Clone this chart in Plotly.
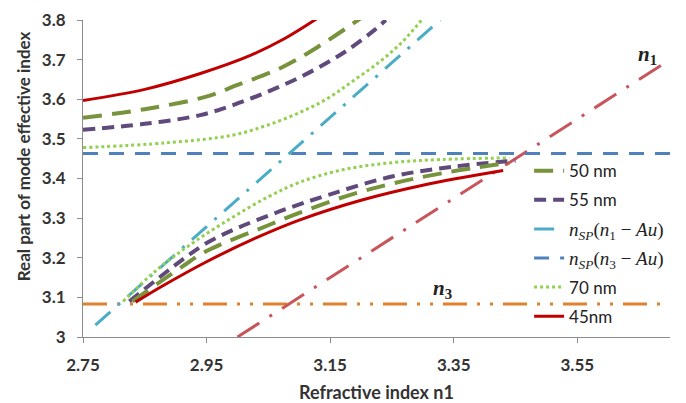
import plotly.graph_objects as go

# ---------------- data ----------------
x45_up = [2.75, 2.85, 2.94, 3.02, 3.075, 3.13]
y45_up = [3.597, 3.625, 3.665, 3.710, 3.752, 3.805]
x45_lo = [2.835, 2.88, 2.95, 3.03, 3.10, 3.20, 3.30, 3.43]
y45_lo = [3.088, 3.130, 3.190, 3.250, 3.295, 3.345, 3.383, 3.420]

x50_up = [2.75, 2.85, 2.948, 3.00, 3.07, 3.13, 3.20]
y50_up = [3.553, 3.575, 3.606, 3.636, 3.679, 3.732, 3.805]
x50_lo = [2.83, 2.91, 2.95, 3.05, 3.10, 3.175, 3.25, 3.33, 3.44]
y50_lo = [3.090, 3.177, 3.217, 3.282, 3.313, 3.355, 3.387, 3.413, 3.440]

x55_up = [2.75, 2.85, 2.94, 2.994, 3.049, 3.103, 3.147, 3.179, 3.222, 3.24]
y55_up = [3.523, 3.538, 3.560, 3.586, 3.619, 3.657, 3.694, 3.725, 3.775, 3.800]
x55_lo = [2.825, 2.91, 2.95, 3.00, 3.07, 3.15, 3.25, 3.35, 3.45]
y55_lo = [3.090, 3.194, 3.237, 3.275, 3.318, 3.360, 3.405, 3.430, 3.445]

x70_up = [2.75, 2.886, 2.994, 3.049, 3.103, 3.147, 3.184, 3.228, 3.265, 3.298]
y70_up = [3.478, 3.490, 3.510, 3.535, 3.568, 3.603, 3.643, 3.692, 3.742, 3.800]
x70_lo = [2.815, 2.87, 2.93, 2.99, 3.05, 3.10, 3.17, 3.25, 3.33, 3.44]
y70_lo = [3.090, 3.170, 3.240, 3.300, 3.354, 3.390, 3.422, 3.440, 3.448, 3.452]

x_sp1 = [2.77, 3.328]
y_sp1 = [3.03, 3.80]

x_sp3 = [2.75, 3.70]
y_sp3 = [3.463, 3.463]

x_n3 = [2.75, 3.70]
y_n3 = [3.083, 3.083]

x_n1 = [3.00, 3.69]
y_n1 = [3.00, 3.69]

x_ticks = [2.75, 2.95, 3.15, 3.35, 3.55]
y_ticks = [3.0, 3.1, 3.2, 3.3, 3.4, 3.5, 3.6, 3.7, 3.8]
y_ticktext = ["3", "3.1", "3.2", "3.3", "3.4", "3.5", "3.6", "3.7", "3.8"]

MATH = 'font-family:Liberation Serif;font-size:19px'
labels = {
    "50": "50 nm",
    "55": "55 nm",
    "sp1": f'<span style="{MATH}"><i>n</i><sub><i>SP</i></sub>(<i>n</i><sub>1</sub> − <i>Au</i>)</span>',
    "sp3": f'<span style="{MATH}"><i>n</i><sub><i>SP</i></sub>(<i>n</i><sub>3</sub> − <i>Au</i>)</span>',
    "70": "70 nm",
    "45": "45nm",
}


def join(xa, ya, xb, yb):
    return xa + [None] + xb, ya + [None] + yb


fig = go.Figure()

# reference lines (not in legend)
fig.add_trace(go.Scatter(x=x_n3, y=y_n3, mode="lines", showlegend=False,
                         line=dict(color="#E0812F", width=3, dash="24px,10px,3px,10px,3px,10px")))
fig.add_trace(go.Scatter(x=x_n1, y=y_n1, mode="lines", showlegend=False,
                         line=dict(color="#C9545A", width=3, dash="26px,12px,3px,12px")))

fig.add_trace(go.Scatter(x=x_sp3, y=y_sp3, mode="lines", name=labels["sp3"], legendrank=4,
                         legendgroup="g4",
                         line=dict(color="#4F81BD", width=3, dash="15px,11px")))
fig.add_trace(go.Scatter(x=x_sp1, y=y_sp1, mode="lines", name=labels["sp1"], legendrank=3,
                         legendgroup="g3",
                         line=dict(color="#4BACC6", width=3, dash="20px,10px,3px,10px")))

xx, yy = join(x70_up, y70_up, x70_lo, y70_lo)
fig.add_trace(go.Scatter(x=xx, y=yy, mode="lines", name=labels["70"], legendrank=5,
                         legendgroup="g5",
                         line=dict(color="#92D050", width=3, dash="dot", shape="spline")))
xx, yy = join(x55_up, y55_up, x55_lo, y55_lo)
fig.add_trace(go.Scatter(x=xx, y=yy, mode="lines", name=labels["55"], legendrank=2,
                         legendgroup="g2",
                         line=dict(color="#604A7B", width=4, dash="12px,7px", shape="spline")))
xx, yy = join(x50_up, y50_up, x50_lo, y50_lo)
fig.add_trace(go.Scatter(x=xx, y=yy, mode="lines", name=labels["50"], legendrank=1,
                         legendgroup="g1",
                         line=dict(color="#77933C", width=4, dash="19px,10px", shape="spline")))
xx, yy = join(x45_up, y45_up, x45_lo, y45_lo)
fig.add_trace(go.Scatter(x=xx, y=yy, mode="lines", name=labels["45"], legendrank=6,
                         legendgroup="g6",
                         line=dict(color="#C00000", width=3, shape="spline")))

fig.add_annotation(x=3.664, y=3.712, xref="x", yref="y", showarrow=False,
                   text="<b><i>n</i></b><sub><b>1</b></sub>",
                   font=dict(family="Liberation Serif", size=21, color="#222222"))
fig.add_annotation(x=3.332, y=3.122, xref="x", yref="y", showarrow=False,
                   text="<b><i>n</i></b><sub><b>3</b></sub>",
                   font=dict(family="Liberation Serif", size=21, color="#222222"))

# y-axis title (placed as in the reference, slightly above the plot centre)
fig.add_annotation(x=-0.1, y=0.571, xref="paper", yref="paper", showarrow=False,
                   xanchor="center", yanchor="middle",
                   textangle=-90, text="<b>Real part of mode effective index</b>",
                   font=dict(family="Lato", size=17, color="#333333"))

fig.update_layout(
    width=686, height=403,
    margin=dict(l=83, r=16, t=20, b=66),
    paper_bgcolor="white", plot_bgcolor="white",
    font=dict(family="Lato", size=17, color="#333333"),
    legend=dict(x=0.76, y=0.58, xanchor="left", yanchor="top",
                bgcolor="rgba(0,0,0,0)", font=dict(family="Lato", size=17, color="#222222"),
                traceorder="grouped", tracegroupgap=4),
)
fig.update_xaxes(
    range=[2.75, 3.70], tickvals=x_ticks, ticktext=[f"<b>{v:.2f}</b>" for v in x_ticks],
    showgrid=False, zeroline=False, showline=True, linecolor="#8C8C8C", linewidth=1,
    ticks="outside", ticklen=5, tickcolor="#8C8C8C", ticklabelstandoff=8,
    automargin=False,
    tickfont=dict(family="Lato", size=17, color="#333333"),
    title=dict(text="<b>Refractive index n1</b>", standoff=12,
               font=dict(family="Lato", size=18, color="#333333")),
)
fig.update_yaxes(
    range=[3.0, 3.8], tickvals=y_ticks, ticktext=[f"<b>{t}</b>" for t in y_ticktext],
    showgrid=False, zeroline=False, showline=True, linecolor="#8C8C8C", linewidth=1,
    ticks="outside", ticklen=5, tickcolor="#8C8C8C", ticklabelstandoff=8,
    automargin=False,
    tickfont=dict(family="Lato", size=17, color="#333333"),
)

fig.write_html("out.html")
